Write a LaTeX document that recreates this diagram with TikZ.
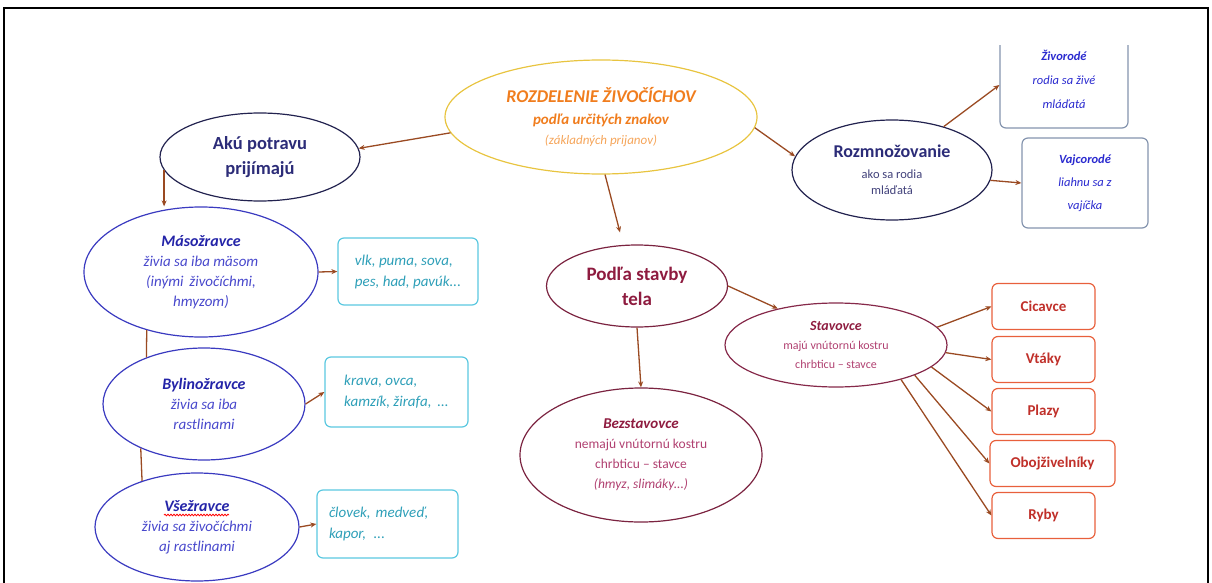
\documentclass[tikz,border=0pt]{standalone}
\usepackage{fontspec}
\setmainfont{Carlito}
\usetikzlibrary{shapes.geometric,arrows.meta,decorations.pathmorphing,calc}
\newcommand{\myfs}[2]{\fontsize{#1}{#2}\selectfont}
\definecolor{brn}{HTML}{9A4A22}
\definecolor{gold}{HTML}{E8C440}
\definecolor{orng}{HTML}{F07D1E}
\definecolor{orngl}{HTML}{F5A55A}
\definecolor{navy}{HTML}{22224F}
\definecolor{navyt}{HTML}{2C2C78}
\definecolor{blu}{HTML}{3A3AC0}
\definecolor{blut}{HTML}{2424A8}
\definecolor{blub}{HTML}{4848CC}
\definecolor{cyn}{HTML}{5BC8E0}
\definecolor{cynt}{HTML}{2E9FB8}
\definecolor{gbl}{HTML}{8494AE}
\definecolor{rbt}{HTML}{2A2ACF}
\definecolor{mar}{HTML}{7B2340}
\definecolor{mart}{HTML}{8E1B3F}
\definecolor{pnk}{HTML}{B04070}
\definecolor{redb}{HTML}{E8603C}
\definecolor{redt}{HTML}{C0302A}
\begin{document}
\begin{tikzpicture}[x=1pt,y=-1pt,
  ell/.style={ellipse, draw, line width=1.2pt, inner sep=0pt, align=center},
  rbox/.style={rectangle, rounded corners=6pt, draw, line width=1.2pt, inner sep=0pt, align=center},
  arr/.style={draw=brn, line width=1.3pt, -{Stealth[length=6pt,width=5pt]}},
  lnk/.style={draw=brn, line width=1.3pt},
  blueell/.style={ell, draw=blu, text=blub, font=\myfs{15}{20}\itshape},
  cbox/.style={rbox, draw=cyn, text=cynt, font=\myfs{15}{21}\itshape, align=left},
  clsbox/.style={rbox, draw=redb, text=redt, font=\myfs{15}{18}\bfseries, minimum width=103pt, minimum height=46pt}
]
\useasboundingbox (0,0) rectangle (1212,583);
\draw[line width=2pt] (4,583) -- (4,8) -- (1208,8) -- (1208,583);

% central
\node[ell, draw=gold, minimum width=312pt, minimum height=114pt, text=orng, font=\myfs{15}{20}] (root) at (601,117)
 {{\myfs{18}{22}\bfseries\itshape ROZDELENIE ŽIVOČÍCHOV}\\[2pt]
  {\bfseries\itshape podľa určitých znakov}\\
  {\myfs{13}{18}\itshape\color{orngl}(základných prijanov)}};

% left branch
\node[ell, draw=navy, text=navyt, minimum width=200pt, minimum height=88pt, font=\myfs{18.5}{25}\bfseries] (aku) at (260,157) {Akú potravu\\prijímajú};

\node[blueell, minimum width=234pt, minimum height=130pt] (mas) at (201,272)
 {{\myfs{16}{20}\bfseries\color{blut}Másožravce}\\živia sa iba mäsom\\(inými \,živočíchmi,\\hmyzom)};
\node[blueell, minimum width=202pt, minimum height=112pt] (byl) at (204,404)
 {{\myfs{16}{21}\bfseries\color{blut}Bylinožravce}\\živia sa iba\\rastlinami};
\node[blueell, minimum width=204pt, minimum height=108pt] (vse) at (197,527)
 {{\myfs{16}{20}\bfseries\color{blut}Všežravce}\\živia sa živočíchmi\\aj rastlinami};
\draw[red, line width=0.8pt, decorate, decoration={snake, amplitude=0.8pt, segment length=3pt}] (164,515) -- (229,515);

\node[cbox, minimum width=140pt, minimum height=67pt] (vlk) at (408,271.5)
 {vlk, puma, sova,\\pes, had, pavúk...};
\node[cbox, minimum width=143pt, minimum height=70pt] (kra) at (396.5,392)
 {krava, ovca,\\kamzík, žirafa, \,...};
\node[cbox, minimum width=141pt, minimum height=68pt, text width=117pt, inner xsep=12pt] (clo) at (387.5,524)
 {človek, medveď,\\kapor, \,...};

\draw[arr] (root.186) -- (aku.5);
\draw[arr] (aku.188) -- (aku.188 |- mas.north);
\draw[lnk] (mas.227) -- (byl.141);
\draw[lnk] (byl.215) -- (vse.140);
\draw[arr] (mas.east) -- (vlk.west);
\draw[arr] (byl.east) -- (kra.west);
\draw[arr] (vse.east) -- (clo.west);

% right branch
\node[ell, draw=navy, minimum width=200pt, minimum height=100pt, text=navyt, font=\myfs{12.5}{16}] (roz) at (892,170)
 {{\myfs{18}{22}\bfseries Rozmnožovanie}\\[5pt]{\color{navyt!75!gray}ako sa rodia}\\{\color{navyt!75!gray}mláďatá}};
\begin{scope}
\clip (0,46) rectangle (1212,583);
\node[rbox, draw=gbl, text=rbt, minimum width=128pt, minimum height=98pt, font=\myfs{12.5}{24}\itshape] (ziv) at (1064,79)
 {{\bfseries Živorodé}\\rodia sa živé\\mláďatá};
\end{scope}
\node[rbox, draw=gbl, text=rbt, minimum width=126pt, minimum height=90pt, font=\myfs{12.5}{23}\itshape] (vaj) at (1085,183)
 {{\bfseries Vajcorodé}\\liahnu sa z\\vajíčka};
\draw[arr] (root.356) -- (roz.172);
\draw[arr] (roz.40) -- ($(ziv.west)+(0,6)$);
\draw[arr] (roz.354) -- (vaj.west);

% middle branch
\node[ell, draw=mar, text=mart, minimum width=181pt, minimum height=82pt, font=\myfs{19}{25}\bfseries] (pod) at (637,286) {Podľa stavby\\tela};
\node[ell, draw=mar!80!pnk, text=pnk, minimum width=222pt, minimum height=84pt, font=\myfs{12}{19}] (sta) at (836,345)
 {{\myfs{14}{19}\bfseries\itshape\color{mart}Stavovce}\\majú vnútornú kostru\\chrbticu -- stavce};
\node[ell, draw=mar, text=pnk, minimum width=242pt, minimum height=134pt, font=\myfs{13.5}{20}] (bez) at (641,455)
 {{\myfs{15}{20}\bfseries\itshape\color{mart}Bezstavovce}\\nemajú vnútornú kostru\\chrbticu -- stavce\\{\itshape (hmyz, slimáky...)}};
\draw[arr] (root.274) -- ($(pod.north)+(-17,-12)$);
\draw[arr] (pod.east) -- (sta.148);
\draw[arr] (pod.south) -- (bez.north);

\node[clsbox] (cic) at (1043.5,306.5) {Cicavce};
\node[clsbox] (vta) at (1043.5,359.5) {Vtáky};
\node[clsbox] (pla) at (1043.5,411.5) {Plazy};
\node[clsbox, minimum width=125pt] (obo) at (1052.5,463.5) {Obojživelníky};
\node[clsbox] (ryb) at (1043.5,515.5) {Ryby};
\draw[arr] (sta.10) -- (cic.west);
\draw[arr] (sta.356) -- (vta.west);
\draw[arr] (sta.347) -- (pla.west);
\draw[arr] (sta.339) -- (obo.west);
\draw[arr] (sta.332) -- (ryb.west);
\end{tikzpicture}
\end{document}
